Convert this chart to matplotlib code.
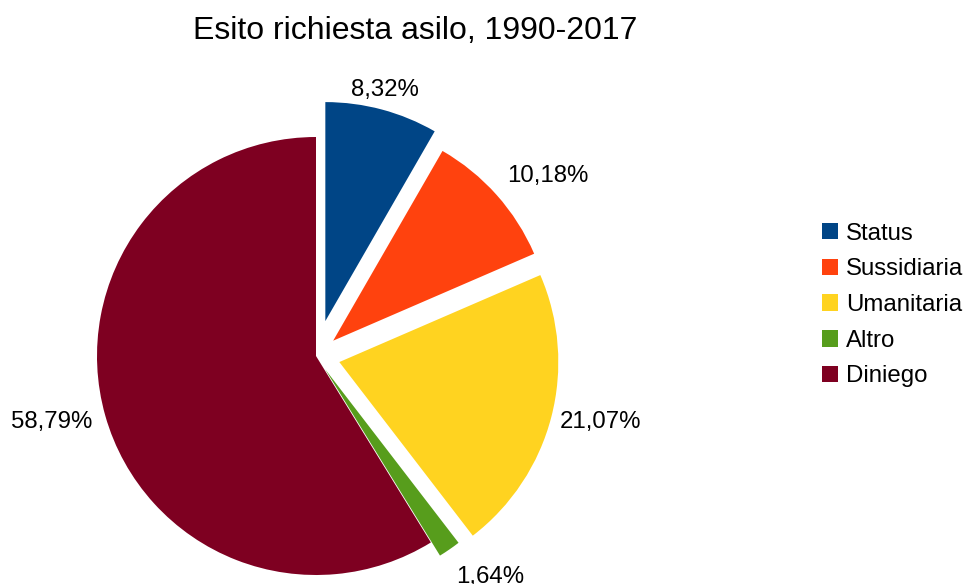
import numpy as np
import matplotlib
matplotlib.use("Agg")
import matplotlib.pyplot as plt

plt.rcParams['font.family'] = ['Liberation Sans', 'DejaVu Sans']

# esito delle richieste d'asilo, quote percentuali
categorie = ["Status", "Sussidiaria", "Umanitaria", "Altro", "Diniego"]
quote = [8.32, 10.18, 21.07, 1.64, 58.79]
colori = ["#004586", "#ff420e", "#ffd320", "#579d1c", "#7e0021"]

# spostamento radiale delle fette, distanza (in raggi) e rotazione
# oraria (gradi) delle etichette rispetto al centro della fetta
esplosione = [0.165, 0.105, 0.11, 0.073, 0.0]
dist_etichette = [1.108, 1.247, 1.218, 1.2, 1.24]
rot_etichette = [-0.8, 3.5, -2.5, -4.4, 2.6]

W, H = 968, 584
fig = plt.figure(figsize=(W / 100, H / 100), dpi=100)
ax = fig.add_axes([0, 0, 1, 1])

cx, cy, r = 316, H - 356, 219
# pie() sposta le fette in unita' dei dati, non del raggio
wedges, _ = ax.pie(quote, colors=colori, explode=[e * r for e in esplosione],
                   startangle=90, counterclock=False, radius=r,
                   center=(cx, cy), labels=None, frame=True,
                   wedgeprops=dict(linewidth=0))
ax.set_xlim(0, W)
ax.set_ylim(0, H)
ax.set_aspect('equal')
ax.axis('off')

for w, q, d, rot in zip(wedges, quote, dist_etichette, rot_etichette):
    a = np.deg2rad((w.theta1 + w.theta2) / 2 - rot)
    x = w.center[0] + d * r * np.cos(a)
    y = w.center[1] + d * r * np.sin(a) - 4  # centra le cifre, non il bbox
    ax.text(x, y, f"{q:.2f}%".replace(".", ","), ha='center', va='center',
            fontsize=17.3, color='black')

fig.text(415 / W, 1 - 31 / H, "Esito richiesta asilo, 1990-2017",
         ha='center', va='center', fontsize=23)

fig.legend(wedges, categorie, loc='center left',
           bbox_to_anchor=(822 / W, 1 - 305 / H), frameon=False,
           fontsize=17.3, handlelength=0.68, handleheight=0.68,
           handletextpad=0.33, labelspacing=0.57, borderpad=0,
           borderaxespad=0)

fig.savefig("out.png", dpi=100)
